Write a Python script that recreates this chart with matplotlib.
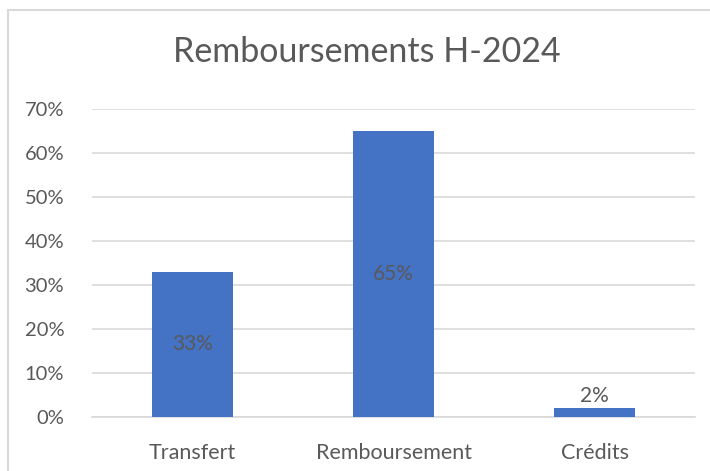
import matplotlib.pyplot as plt
from matplotlib.patches import Rectangle
from matplotlib.ticker import PercentFormatter

# data
categories = ["Transfert", "Remboursement", "Crédits"]
values = [33, 65, 2]
y_ticks = [0, 10, 20, 30, 40, 50, 60, 70]

BLUE = "#4472C4"
TXT = "#595959"
GRID = "#D9D9D9"

plt.rcParams["font.family"] = ["Lato", "DejaVu Sans"]

fig = plt.figure(figsize=(7.10, 4.71), dpi=100)
# chart frame (cropped on right and bottom like the original)
fig.patches.append(Rectangle((8 / 710, -0.1), 1.2, 1 - 10 / 471 + 0.1,
                             transform=fig.transFigure, fill=False,
                             edgecolor=GRID, lw=1.5))

ax = fig.add_axes([92 / 710, 1 - 417 / 471, (695 - 92) / 710, (417 - 109) / 471])
x = range(len(categories))
bars = ax.bar(x, values, width=0.4, color=BLUE, zorder=3)

ax.set_xlim(-0.5, len(categories) - 0.5)
ax.set_ylim(0, 70)
ax.set_yticks(y_ticks)
ax.yaxis.set_major_formatter(PercentFormatter(decimals=0))
ax.set_xticks(list(x))
ax.set_xticklabels(categories)
ax.tick_params(axis="both", length=0, colors=TXT)
ax.tick_params(axis="x", pad=19, labelsize=15.5)
ax.tick_params(axis="y", pad=20, labelsize=14.5)
ax.grid(axis="y", color=GRID, lw=1.2, zorder=0)
for s in ["top", "right", "left"]:
    ax.spines[s].set_visible(False)
ax.spines["bottom"].set_color(GRID)
ax.spines["bottom"].set_linewidth(1.2)

# data labels: inside centre for big bars, above for small ones
for b, v in zip(bars, values):
    cx = b.get_x() + b.get_width() / 2
    if v > 10:
        ax.text(cx, v / 2, f"{v}%", ha="center", va="center", fontsize=15, color=TXT, zorder=4)
    else:
        ax.text(cx, v + 0.4, f"{v}%", ha="center", va="bottom", fontsize=15, color=TXT, zorder=4)

fig.text(367 / 710, 1 - 52 / 471, "Remboursements H-2024", ha="center", va="center",
         fontsize=24.5, color=TXT)

fig.savefig("out.png", dpi=100)
